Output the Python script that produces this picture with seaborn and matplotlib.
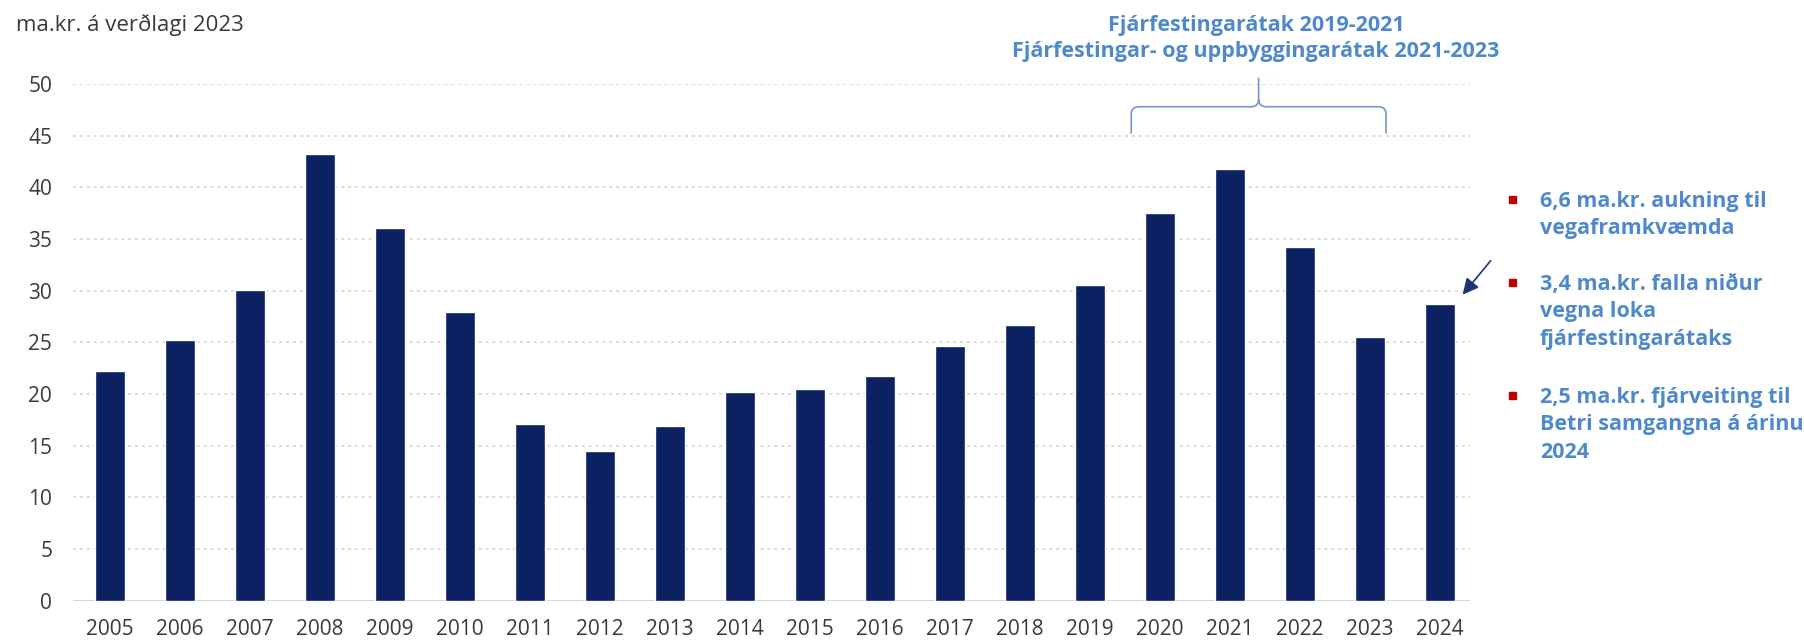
import matplotlib
matplotlib.use("Agg")
import matplotlib.pyplot as plt
from matplotlib.path import Path
from matplotlib.patches import PathPatch
import seaborn as sns
import pandas as pd

years = [str(y) for y in range(2005, 2025)]
values = [22.2, 25.2, 30.1, 43.2, 36.1, 27.9, 17.1, 14.5, 16.9, 20.2,
          20.5, 21.7, 24.6, 26.7, 30.5, 37.5, 41.8, 34.2, 25.5, 28.7]
y_ticks = list(range(0, 55, 5))

y_label = "ma.kr. á verðlagi 2023"
bracket_title = ["Fjárfestingarátak 2019-2021",
                 "Fjárfestingar- og uppbyggingarátak 2021-2023"]
bullets = [
    ["6,6 ma.kr. aukning til", "vegaframkvæmda"],
    ["3,4 ma.kr. falla niður", "vegna loka", "fjárfestingarátaks"],
    ["2,5 ma.kr. fjárveiting til", "Betri samgangna á árinu", "2024"],
]

BAR = "#0b2161"
BLUE = "#4f89cc"
RED = "#c00000"
TEXT = "#3a3a3a"

sns.set_style("white")
plt.rcParams["font.family"] = ["Open Sans", "DejaVu Sans"]

df = pd.DataFrame({"year": years, "value": values})

W, H = 1804, 641
fig = plt.figure(figsize=(W / 100, H / 100), dpi=100)
ax = fig.add_axes([73 / W, 1 - 600.6 / H, (1470 - 73) / W, (600.6 - 84) / H])

sns.barplot(data=df, x="year", y="value", color=BAR, saturation=1,
            width=0.42, ax=ax)

ax.set_xlim(-0.53, len(years) - 1 + 0.43)
ax.set_ylim(0, 50)
ax.set_yticks(y_ticks)
for t in y_ticks[1:]:
    ax.axhline(t, color="#d4d4d4", lw=1.1, ls=(0, (2, 2.5)), zorder=0)
ax.axhline(0, color="#d6d6d6", lw=1.5, zorder=0)
for s in ax.spines.values():
    s.set_visible(False)
ax.set_xlabel("")
ax.set_ylabel("")
ax.tick_params(axis="y", length=0, pad=15, labelsize=15, labelcolor=TEXT)
ax.tick_params(axis="x", length=0, pad=13, labelsize=15, labelcolor=TEXT)

fig.text(16 / W, 1 - 25 / H, y_label, fontsize=16, color=TEXT, va="center")

# curly bracket over 2020-2023
i0 = years.index("2020")
i1 = years.index("2023")
left, right = i0 - 0.41, i1 + 0.23
tip = (left + right) / 2
low, mid, top = 45.2, 47.8, 50.6
rx, ry = 0.11, 0.7
verts = [(left, low), (left, mid - ry), (left, mid), (left + rx, mid),
         (tip - rx, mid), (tip, mid), (tip, mid + ry), (tip, top),
         (tip, mid + ry), (tip, mid), (tip + rx, mid),
         (right - rx, mid), (right, mid), (right, mid - ry), (right, low)]
codes = [Path.MOVETO, Path.LINETO, Path.CURVE3, Path.CURVE3,
         Path.LINETO, Path.CURVE3, Path.CURVE3, Path.LINETO,
         Path.MOVETO, Path.CURVE3, Path.CURVE3,
         Path.LINETO, Path.CURVE3, Path.CURVE3, Path.LINETO]
ax.add_patch(PathPatch(Path(verts, codes), fill=False, ec="#7396c9",
                       lw=1.2, clip_on=False))

for line, yc in zip(bracket_title, [24, 50]):
    fig.text(1256 / W, 1 - (yc + 7.5) / H, line, ha="center", va="baseline",
             fontsize=15.5, fontweight="bold", color=BLUE)

# arrow pointing at 2024
i24 = years.index("2024")
ax.annotate("", xy=(i24 + 0.3, values[i24] + 0.7),
            xytext=(i24 + 0.75, values[i24] + 4.4),
            arrowprops=dict(arrowstyle="-|>", color="#1b3578", lw=1.2,
                            mutation_scale=24),
            annotation_clip=False)

# bullet notes on the right
line_h = 27.6
for lines, y in zip(bullets, [199, 282, 395]):
    for k, line in enumerate(lines):
        yc = y + k * line_h
        fig.text(1540 / W, 1 - (yc + 7.8) / H, line, ha="left",
                 va="baseline", fontsize=15.5, fontweight="bold", color=BLUE)
    fig.patches.append(plt.Rectangle((1509 / W, 1 - (y + 3.5) / H),
                                     7 / W, 7 / H, color=RED,
                                     transform=fig.transFigure, figure=fig))

fig.savefig("out.png", dpi=100)
